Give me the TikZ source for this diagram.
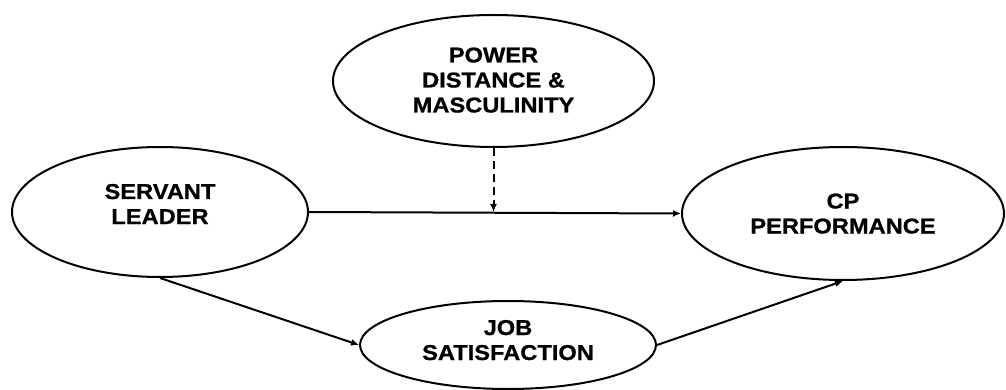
\documentclass[tikz,border=0pt]{standalone}
\usepackage{fontspec}
\usepackage{tikz}
\usetikzlibrary{positioning,arrows.meta,shapes.geometric}
\newfontfamily\boxfont[FakeStretch=1.1,FakeBold=0.8]{Liberation Sans}

\begin{document}
\begin{tikzpicture}[
    x=1pt, y=-1pt,
    oval/.style 2 args={ellipse, draw=black, line width=2pt, fill=white,
                  font=\boxfont\bfseries\fontsize{21.5}{25}\selectfont,
                  align=center, inner sep=0pt, text height=40pt, text depth=0pt,
                  minimum width=#1, minimum height=#2},
    link/.style={line width=2pt, -{Latex[length=8pt,width=7pt]}},
  ]
    \useasboundingbox (0,0) rectangle (1006,390);

    % --- the four constructs ------------------------------------------------
    \node[oval={321pt}{132pt}, text height=63pt] (power) at (493.5,81) {POWER\\DISTANCE \&\\MASCULINITY};
    \node[oval={296pt}{130pt}, text depth=16pt] (servant) at (160,212) {SERVANT\\LEADER};
    \node[oval={322pt}{133pt}, text depth=-10pt] (cp) at (843,213.5) {CP\\PERFORMANCE};
    \node[oval={296pt}{88pt}, text depth=10pt] (job) at (508,345) {JOB\\SATISFACTION};

    % --- direct path, moderator and mediation ------------------------------
    \coordinate (mod) at (power.south |- servant.east);
    \draw[link] (servant.east) -- (cp.west);
    \draw[link, dash pattern=on 8pt off 5pt] (power.south) -- (mod);
    \draw[link] (servant.south) -- (job.west);
    \draw[link] (job.east) -- (cp.south);
  \end{tikzpicture}
\end{document}
